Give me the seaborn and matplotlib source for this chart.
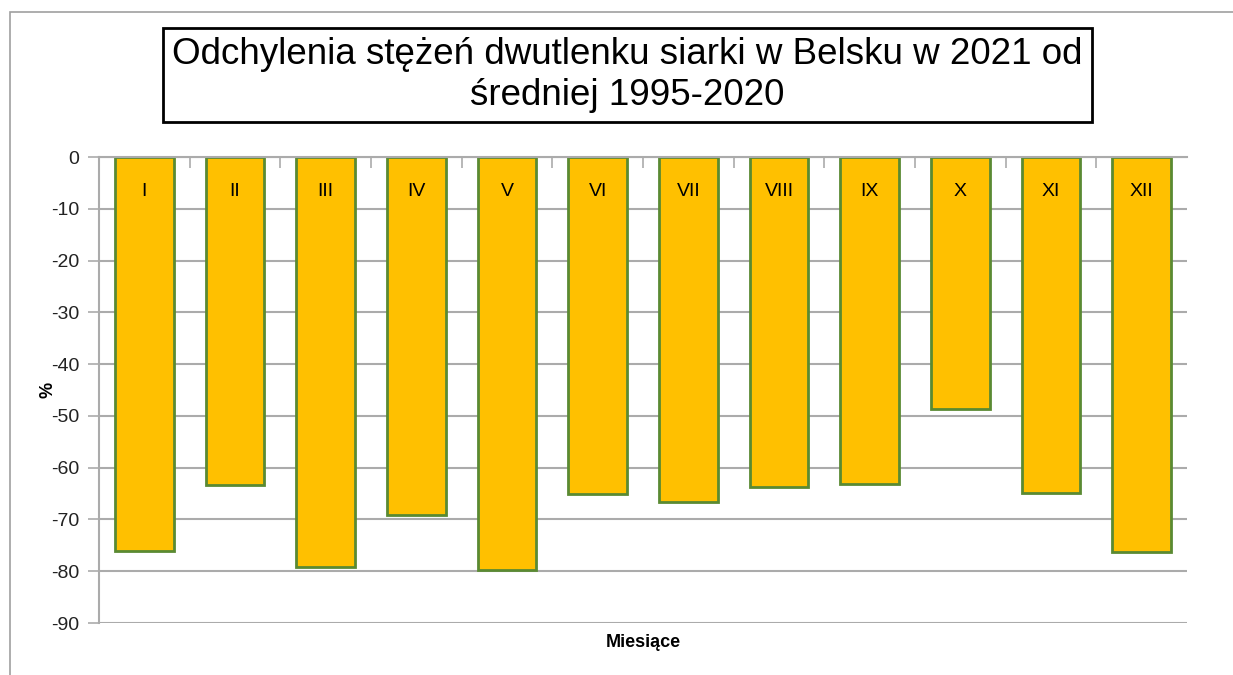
import numpy as np
import pandas as pd
import seaborn as sns
import matplotlib.pyplot as plt
from matplotlib.patches import Rectangle

months = ["I", "II", "III", "IV", "V", "VI", "VII", "VIII", "IX", "X", "XI", "XII"]
deviation = [-76.0, -63.4, -79.2, -69.1, -79.8, -65.1, -66.6, -63.8, -63.2, -48.7, -64.9, -76.2]
yticks = [0, -10, -20, -30, -40, -50, -60, -70, -80, -90]

title = "Odchylenia stężeń dwutlenku siarki w Belsku w 2021 od\nśredniej 1995-2020"

df = pd.DataFrame({"miesiac": months, "odchylenie": deviation})

sns.set_theme(style="white")
plt.rcParams["font.family"] = ["Liberation Sans", "DejaVu Sans"]

fig = plt.figure(figsize=(12.33, 6.75), dpi=100)
ax = fig.add_axes([0.0803, 0.077, 0.8824, 0.6904])

sns.barplot(data=df, x="miesiac", y="odchylenie", color="#FFC000",
            edgecolor="#5A8A32", linewidth=2, width=0.65, saturation=1, ax=ax)

# etykiety miesiecy wewnatrz slupkow
for patch, m in zip(ax.patches, months):
    ax.text(patch.get_x() + patch.get_width() / 2, -6.7, m,
            ha="center", va="center", fontsize=14, color="black")

ax.set_ylim(-90, 0)
ax.set_xlim(-0.5, len(months) - 0.5)
ax.set_yticks(yticks)
ax.set_yticklabels([str(t) for t in yticks], fontsize=14, color="#222222")
ax.yaxis.grid(True, color="#ABABAB", linewidth=1.5)
ax.set_axisbelow(True)

# os x na gorze (linia zera) z kreskami miedzy kategoriami
ax.set_xticks(np.arange(0.5, len(months) - 0.5, 1))
ax.set_xticklabels([])
ax.xaxis.set_ticks_position("top")
ax.tick_params(axis="x", direction="in", length=8, width=1.2, color="#ABABAB")
ax.tick_params(axis="y", direction="out", length=8, width=1.2, color="#ABABAB", left=True, pad=6)

for side in ["right", "bottom"]:
    ax.spines[side].set_visible(False)
ax.spines["left"].set_color("#ABABAB")
ax.spines["left"].set_linewidth(1.5)
ax.spines["top"].set_color("#ABABAB")
ax.spines["top"].set_linewidth(1.5)

ax.set_xlabel("Miesiące", fontsize=13, fontweight="bold", labelpad=8, color="black")
ax.set_ylabel("%", fontsize=13, fontweight="bold", labelpad=-4, color="black")

fig.text(0.509, 0.889, title, ha="center", va="center", fontsize=26.5,
         linespacing=1.22, color="black",
         bbox=dict(boxstyle="square,pad=0.25", facecolor="white", edgecolor="black", linewidth=2))

# ramka wykresu
fig.patches.append(Rectangle((10 / 1233, -0.05), 1.2, 1 - 12 / 675 + 0.05,
                             transform=fig.transFigure, fill=False,
                             edgecolor="#A0A0A0", linewidth=1.2))

fig.savefig("out.png", dpi=100)
